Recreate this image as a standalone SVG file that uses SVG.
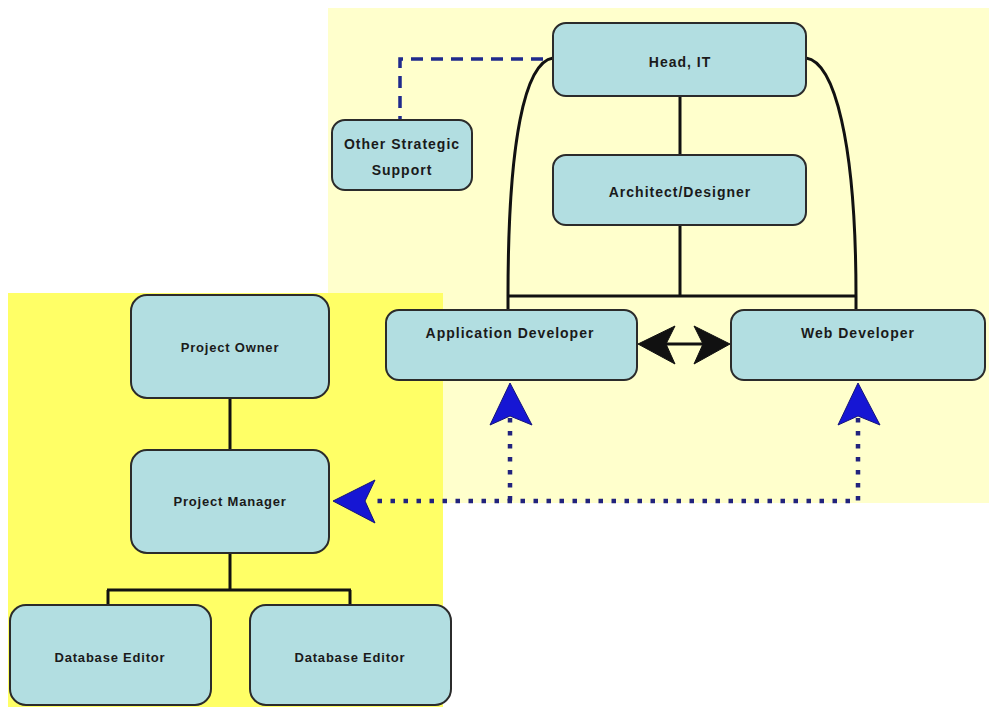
<svg xmlns="http://www.w3.org/2000/svg" width="989" height="707" viewBox="0 0 989 707">
  <style>
    .box { fill: #B2DEE1; stroke: #2b2b2b; stroke-width: 2; }
    .lbl { font-family: "Liberation Sans", Arial, sans-serif; font-weight: bold; font-size: 14px; letter-spacing: 1px; fill: #1a1a1a; text-anchor: middle; }
    .sm { font-size: 13px; letter-spacing: 0.8px; }
    .tree { fill: none; stroke: #111; stroke-width: 3; }
    .dash { fill: none; stroke: #1f2a8c; stroke-width: 3.5; stroke-dasharray: 12 8; }
    .dot { fill: none; stroke: #22237e; stroke-width: 4.5; stroke-dasharray: 4.5 8.5; }
    .bluehead { fill: #1616d4; stroke: #14147a; stroke-width: 1; }
    .blackhead { fill: #111; stroke: #111; stroke-width: 1; }
  </style>

  <!-- background panels -->
  <rect x="0" y="0" width="989" height="707" fill="#ffffff"/>
  <rect x="328" y="8" width="661" height="495" fill="#FFFFCC"/>
  <rect x="8" y="293" width="435" height="414" fill="#FFFF66"/>

  <!-- connectors -->
  <g id="connectors">
    <!-- IT team tree -->
    <line class="tree" x1="680" y1="96" x2="680" y2="155"/>
    <line class="tree" x1="680" y1="225" x2="680" y2="296"/>
    <line class="tree" x1="507" y1="296" x2="857" y2="296"/>
    <line class="tree" x1="508" y1="296" x2="508" y2="310"/>
    <line class="tree" x1="856" y1="296" x2="856" y2="310"/>
    <path class="tree" d="M553 58 C525 62 508 140 508 296"/>
    <path class="tree" d="M806 58 C834 62 856 140 856 296"/>

    <!-- strategic support link -->
    <path class="dash" d="M543 59 H400 V120"/>

    <!-- peer link between developers -->
    <line x1="664" y1="344" x2="706" y2="344" stroke="#111" stroke-width="3"/>
    <polygon class="blackhead" points="638,344 675,326 666,344 675,364"/>
    <polygon class="blackhead" points="730,344 694,326 703,344 694,364"/>

    <!-- project side reporting -->
    <path class="dot" d="M858 418 V501 H370"/>
    <line class="dot" x1="510" y1="418" x2="510" y2="501"/>
    <polygon class="bluehead" points="510,383 532,425 510,416 490,425"/>
    <polygon class="bluehead" points="858,383 880,425 858,416 838,425"/>
    <polygon class="bluehead" points="333,501 375,480 365,501 375,523"/>

    <!-- project tree -->
    <line class="tree" x1="230" y1="398" x2="230" y2="450"/>
    <line class="tree" x1="230" y1="553" x2="230" y2="590"/>
    <line class="tree" x1="107" y1="590" x2="351" y2="590"/>
    <line class="tree" x1="108" y1="590" x2="108" y2="605"/>
    <line class="tree" x1="350" y1="590" x2="350" y2="605"/>
  </g>

  <!-- nodes -->
  <g id="head-it">
    <rect class="box" x="553" y="23" width="253" height="73" rx="13"/>
    <text class="lbl" x="680" y="67">Head, IT</text>
  </g>
  <g id="architect">
    <rect class="box" x="553" y="155" width="253" height="70" rx="13"/>
    <text class="lbl" x="680" y="197">Architect/Designer</text>
  </g>
  <g id="strategic-support">
    <rect class="box" x="332" y="120" width="140" height="70" rx="13"/>
    <text class="lbl" x="402" y="149" letter-spacing="0.6">Other Strategic</text>
    <text class="lbl" x="402" y="175" letter-spacing="0.6">Support</text>
  </g>
  <g id="app-developer">
    <rect class="box" x="386" y="310" width="251" height="70" rx="13"/>
    <text class="lbl" x="510" y="338">Application Developer</text>
  </g>
  <g id="web-developer">
    <rect class="box" x="731" y="310" width="254" height="70" rx="13"/>
    <text class="lbl" x="858" y="338">Web Developer</text>
  </g>
  <g id="project-owner">
    <rect class="box" x="131" y="295" width="198" height="103" rx="16"/>
    <text class="lbl sm" x="230" y="352">Project Owner</text>
  </g>
  <g id="project-manager">
    <rect class="box" x="131" y="450" width="198" height="103" rx="16"/>
    <text class="lbl sm" x="230" y="506">Project Manager</text>
  </g>
  <g id="db-editor-1">
    <rect class="box" x="10" y="605" width="201" height="100" rx="16"/>
    <text class="lbl sm" x="110" y="662">Database Editor</text>
  </g>
  <g id="db-editor-2">
    <rect class="box" x="250" y="605" width="201" height="100" rx="16"/>
    <text class="lbl sm" x="350" y="662">Database Editor</text>
  </g>
</svg>
